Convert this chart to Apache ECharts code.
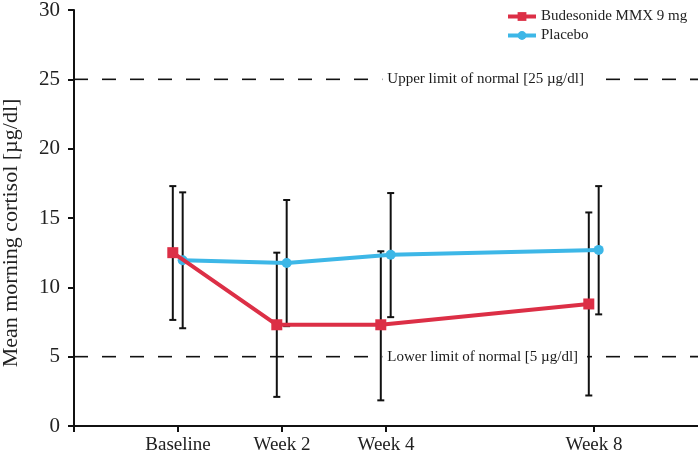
<!DOCTYPE html>
<html><head><meta charset="utf-8">
<script src="https://cdn.jsdelivr.net/npm/echarts@6/dist/echarts.min.js"></script>
<style>html,body{margin:0;padding:0;background:#fff}#c{width:698px;height:459px}</style>
</head><body><div id="c"></div>
<script>
const weeks = [0, 2, 4, 8];
const weekLabels = ['Baseline', 'Week 2', 'Week 4', 'Week 8'];
const budName = 'Budesonide MMX 9 mg';
const budMean = [12.5, 7.3, 7.3, 8.8];
const budHigh = [17.3, 12.5, 12.6, 15.4];
const budLow  = [7.65, 2.1, 1.85, 2.2];
const plaName = 'Placebo';
const plaMean = [11.95, 11.75, 12.35, 12.7];
const plaHigh = [16.85, 16.3, 16.8, 17.3];
const plaLow  = [7.05, 7.2, 7.85, 8.05];
const refValues = [25, 5];
const refLabels = ['Upper limit of normal [25 µg/dl]', 'Lower limit of normal [5 µg/dl]'];

// layout constants
const X_MIN = -2, X_MAX = 10;
const budOffset = -0.1, plaOffset = 0.09, refLabelAt = 3.93;
const FONT = 'Liberation Serif';
const RED = '#dc2f46', BLUE = '#3db7e7';

const labelMap = {};
weeks.forEach((w, i) => labelMap[w] = weekLabels[i]);

function errSeries(low, high, off) {
  return {
    type: 'custom', z: 3, silent: true,
    data: weeks.map((w, i) => [w + off, low[i], high[i]]),
    renderItem: function (params, api) {
      const x = api.value(0);
      const p1 = api.coord([x, api.value(1)]);
      const p2 = api.coord([x, api.value(2)]);
      const hw = 3.5;
      const st = { stroke: '#111', lineWidth: 2, fill: null };
      return { type: 'group', children: [
        { type: 'line', shape: { x1: p1[0], y1: p1[1], x2: p2[0], y2: p2[1] }, style: st },
        { type: 'line', shape: { x1: p1[0] - hw, y1: p1[1], x2: p1[0] + hw, y2: p1[1] }, style: st },
        { type: 'line', shape: { x1: p2[0] - hw, y1: p2[1], x2: p2[0] + hw, y2: p2[1] }, style: st }
      ]};
    }
  };
}

const refSeries = refValues.map(v => ({
  type: 'line', z: 1, silent: true, symbol: 'none',
  data: [[X_MIN, v], [X_MAX, v]],
  lineStyle: { color: '#111', type: [14, 14], width: 1.6 }
}));

const refLabelSeries = {
  type: 'custom', z: 2, silent: true,
  data: refValues.map((v, i) => [refLabelAt, v, i]),
  renderItem: function (params, api) {
    const p = api.coord([api.value(0), api.value(1)]);
    return {
      type: 'text', x: p[0], y: p[1],
      style: {
        text: refLabels[api.value(2)],
        font: '15px "' + FONT + '"', fill: '#1a1a1a',
        align: 'left', verticalAlign: 'middle',
        backgroundColor: '#fff', padding: [3, 9, 3, 5]
      }
    };
  }
};

const chart = echarts.init(document.getElementById('c'));
chart.setOption({
  animation: false,
  textStyle: { fontFamily: FONT },
  grid: { left: 74, right: 0, top: 10, bottom: 33, outerBoundsMode: 'none', containLabel: false },
  legend: {
    orient: 'vertical', left: 501, top: 4, itemGap: 4,
    itemWidth: 28, itemHeight: 11,
    lineStyle: { width: 4 },
    textStyle: { fontFamily: FONT, fontSize: 15, color: '#222' },
    data: [budName, plaName]
  },
  xAxis: {
    type: 'value', min: X_MIN, max: X_MAX,
    splitLine: { show: false },
    axisLine: { onZero: false, lineStyle: { color: '#111', width: 2 } },
    axisTick: { customValues: [X_MIN].concat(weeks), length: 6, lineStyle: { color: '#111', width: 2 } },
    axisLabel: { customValues: weeks, formatter: v => labelMap[v] || '', fontFamily: FONT, fontSize: 19, color: '#222', margin: 10 }
  },
  yAxis: {
    type: 'value', min: 0, max: 30, interval: 5,
    name: 'Mean morning cortisol [µg/dl]', nameLocation: 'middle', nameGap: 52,
    nameTextStyle: { fontFamily: FONT, fontSize: 22, color: '#222', padding: [0, 30, 0, 0] },
    splitLine: { show: false },
    axisLine: { show: true, onZero: false, lineStyle: { color: '#111', width: 2 } },
    axisTick: { show: true, length: 6, lineStyle: { color: '#111', width: 2 } },
    axisLabel: { fontFamily: FONT, fontSize: 21, color: '#222', margin: 14 }
  },
  series: refSeries.concat([
    refLabelSeries,
    errSeries(budLow, budHigh, budOffset),
    errSeries(plaLow, plaHigh, plaOffset),
    {
      type: 'line', name: budName, z: 5,
      data: weeks.map((w, i) => [w + budOffset, budMean[i]]),
      symbol: 'rect', symbolSize: 11, showSymbol: true,
      lineStyle: { color: RED, width: 4 }, itemStyle: { color: RED }
    },
    {
      type: 'line', name: plaName, z: 4,
      data: weeks.map((w, i) => [w + plaOffset, plaMean[i]]),
      symbol: 'circle', symbolSize: 10, showSymbol: true,
      lineStyle: { color: BLUE, width: 4 }, itemStyle: { color: BLUE }
    }
  ])
});
</script>
</body></html>
